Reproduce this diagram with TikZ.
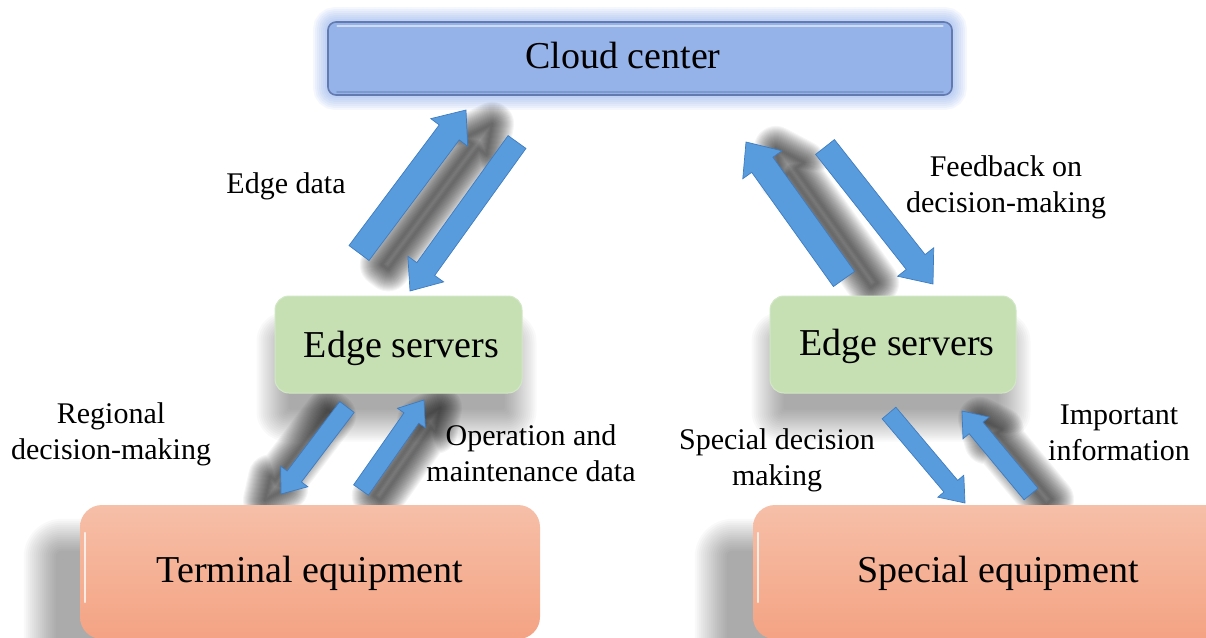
\documentclass[tikz,border=0pt]{standalone}
\usepackage{fontspec}
\setmainfont{Liberation Serif}
\usetikzlibrary{calc,backgrounds}

\definecolor{cloudfill}{RGB}{149,179,232}
\definecolor{cloudedge}{RGB}{98,122,176}
\definecolor{cloudglow}{RGB}{110,150,228}
\definecolor{edgefill}{RGB}{198,224,180}
\definecolor{edgeedge}{RGB}{210,232,196}
\definecolor{termtop}{RGB}{246,191,168}
\definecolor{termbot}{RGB}{244,163,131}
\definecolor{arrowblue}{RGB}{88,156,222}
\definecolor{arrowedge}{RGB}{62,124,192}

% block arrow: [style]{tail}{tip}{half shaft}{half head}{head length}
\newcommand{\blockarrow}[6][]{%
  \coordinate (bac) at ($(#3)!#6!(#2)$);
  \path[#1] ($(#2)!#4!90:(#3)$) -- ($(bac)!#4!90:(#3)$) -- ($(bac)!#5!90:(#3)$) -- (#3)
    -- ($(bac)!#5!-90:(#3)$) -- ($(bac)!#4!-90:(#3)$) -- ($(#2)!#4!-90:(#3)$) -- cycle;
}
% soft (blurred) shadow of a block arrow: {tail}{tip}{half head}{head length}{shift}
\newcommand{\arrowshadow}[5]{%
  \begin{scope}[transform canvas={shift={(#5)}}]
    \foreach \w in {2,4,...,44} {%
      \blockarrow[draw=black, draw opacity=0.04,
        line width=\w pt, line join=round]{#1}{#2}{4pt}{#3}{#4}}
  \end{scope}}
% soft (blurred) shadow of a box node: {node}{corner radius}{shift}
\newcommand{\boxshadow}[3]{%
  \begin{scope}[transform canvas={shift={(#3)}}]
    \foreach \d in {-16,-14,...,16} {%
      \pgfmathsetmacro\rr{max(2,#2+\d)}%
      \pgfmathsetmacro\nd{0-(\d)}%
      \fill[black, fill opacity=0.022, rounded corners=\rr pt]
        ($(#1.south west)+(\nd,\d)$) rectangle ($(#1.north east)+(\d,\nd)$);}
  \end{scope}}

\begin{document}
\begin{tikzpicture}[x=1pt,y=-1pt,
  boxtext/.style={font=\fontsize{38}{44}\selectfont, inner sep=0pt},
  cloudbox/.style={boxtext, rectangle, rounded corners=8pt, fill=cloudfill,
    draw=cloudedge, line width=1.6pt},
  edgebox/.style={boxtext, rectangle, rounded corners=14pt, fill=edgefill,
    draw=edgeedge, line width=1pt},
  termbox/.style={boxtext, rectangle, rounded corners=22pt, top color=termtop,
    bottom color=termbot, draw=none},
  lbl/.style={font=\fontsize{30}{36}\selectfont, align=center, inner sep=0pt},
  barrow/.style={fill=arrowblue, draw=arrowedge, line width=0.7pt, line join=miter}
]
\useasboundingbox (0,0) rectangle (1206,637);
\clip (0,0) rectangle (1206,637);

% boxes
\node[cloudbox, minimum width=624pt, minimum height=73pt] (cloud) at (640,58.5)
  {\raisebox{-9.5pt}[0pt][0pt]{Cloud center}\hspace*{34pt}};
\node[edgebox, minimum width=247pt, minimum height=97pt] (esl) at (398.5,344.5)
  {\hspace*{6pt}\raisebox{-13pt}[0pt][0pt]{Edge servers}};
\node[edgebox, minimum width=246pt, minimum height=97pt] (esr) at (893,344.5)
  {\hspace*{8pt}\raisebox{-11pt}[0pt][0pt]{Edge servers}};
\node[termbox, minimum width=460pt, minimum height=134pt] (term) at (310,572)
  {\raisebox{-10pt}[0pt][0pt]{Terminal equipment}};
\node[termbox, minimum width=490pt, minimum height=134pt] (spec) at (998,572)
  {\raisebox{-10pt}[0pt][0pt]{Special equipment}};

% highlights on the boxes
\draw[white, opacity=0.55, line width=1.6pt, line cap=round]
  ($(cloud.north west)+(10,5)$) -- ($(cloud.north east)+(-10,5)$);
\draw[cloudedge, opacity=0.45, line width=2.5pt, line cap=round]
  ($(cloud.south west)+(10,-4)$) -- ($(cloud.south east)+(-10,-4)$);
\draw[white, opacity=0.75, line width=2pt, line cap=round]
  ($(term.north west)+(5,28)$) -- ($(term.west)+(5,30)$);
\draw[white, opacity=0.75, line width=2pt, line cap=round]
  ($(spec.north west)+(5,28)$) -- ($(spec.west)+(5,30)$);

% background glow and shadows
\begin{scope}[on background layer]
  \foreach \w in {4,8,...,28} {%
    \draw[draw=cloudglow, draw opacity=0.08, line width=\w pt, rounded corners=8pt]
      (cloud.south west) rectangle (cloud.north east);}
  \boxshadow{esl}{14}{-2pt,-32pt}
  \boxshadow{esr}{14}{-2pt,-32pt}
  \boxshadow{term}{22}{-40pt,-30pt}
  \boxshadow{spec}{22}{-42pt,-30pt}
\end{scope}

% arrow end points
\coordinate (a1t) at (359,253);  \coordinate (a1h) at (466,110);
\coordinate (a2t) at (517,142);  \coordinate (a2h) at (410,291);
\coordinate (a3t) at (844,279);  \coordinate (a3h) at (746,142);
\coordinate (a4t) at (825,147);  \coordinate (a4h) at (933,284);
\coordinate (a5t) at (347,407);  \coordinate (a5h) at (281,494);
\coordinate (a6t) at (361,490);  \coordinate (a6h) at (424,400);
\coordinate (a7t) at (889,413);  \coordinate (a7h) at (965,503);
\coordinate (a8t) at (1031,494); \coordinate (a8h) at (962,411);

\begin{scope}[on background layer]
  \arrowshadow{a1t}{a1h}{14pt}{28pt}{26pt,-14pt}
  \arrowshadow{a3t}{a3h}{14pt}{28pt}{30pt,-6pt}
  \arrowshadow{a5t}{a5h}{10pt}{22pt}{-16pt,-6pt}
  \arrowshadow{a6t}{a6h}{10pt}{22pt}{16pt,-8pt}
  \arrowshadow{a8t}{a8h}{10pt}{22pt}{18pt,-8pt}
\end{scope}

% arrows
\blockarrow[barrow]{a1t}{a1h}{12.5pt}{23pt}{28pt}
\blockarrow[barrow]{a2t}{a2h}{11pt}{22pt}{27pt}
\blockarrow[barrow]{a3t}{a3h}{13pt}{24pt}{28pt}
\blockarrow[barrow]{a4t}{a4h}{12pt}{23pt}{28pt}
\blockarrow[barrow]{a5t}{a5h}{9pt}{17pt}{22pt}
\blockarrow[barrow]{a6t}{a6h}{9pt}{17pt}{22pt}
\blockarrow[barrow]{a7t}{a7h}{9pt}{17pt}{22pt}
\blockarrow[barrow]{a8t}{a8h}{9pt}{17pt}{22pt}

% labels
\node[lbl] (ed) at (286,186) {Edge data};
\node[lbl] (fb) at (1006,187) {Feedback on\\decision-making};
\node[lbl] (rd) at (111,434) {Regional\\decision-making};
\node[lbl] (om) at (531,453) {Operation and\\maintenance data};
\node[lbl] (sd) at (777,460) {Special decision\\making};
\node[lbl] (ii) at (1119,433) {Important\\information};
\end{tikzpicture}
\end{document}
